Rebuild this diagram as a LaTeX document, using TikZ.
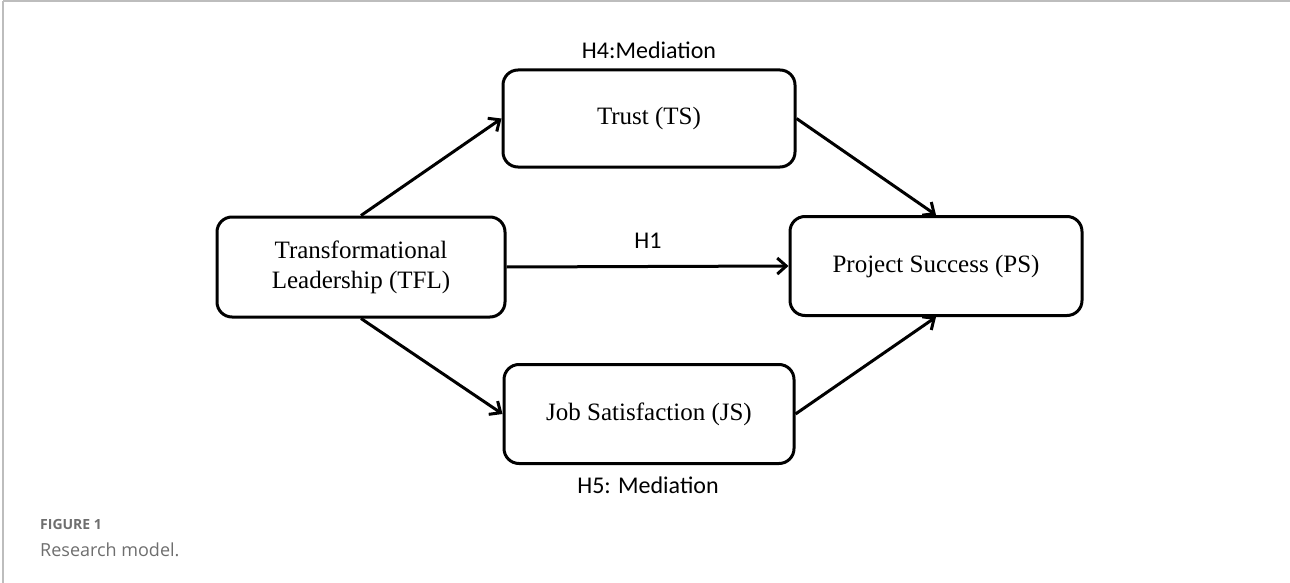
\documentclass[tikz,border=0pt]{standalone}
\usepackage{fontspec}
\setmainfont{Liberation Serif}
\newfontfamily\lblfont{Carlito}
\newfontfamily\capfont{Open Sans}
\usetikzlibrary{arrows.meta}
\definecolor{capgray}{HTML}{6E6E6E}
\definecolor{framegray}{HTML}{BDBDBD}
\tikzset{
  box/.style={draw=black, line width=3pt, rounded corners=15pt, align=center,
    font=\fontsize{25}{30}\selectfont, inner sep=0pt},
  conn/.style={line width=3pt, -{Straight Barb[length=9pt,width=16pt,line width=3pt]}},
  lbl/.style={font=\lblfont\fontsize{24}{28}\selectfont, inner sep=0pt},
}
\begin{document}
\begin{tikzpicture}[x=1pt,y=-1pt]
\useasboundingbox (0,0) rectangle (1290,583);
\draw[framegray, line width=1.5pt] (3,1) -- (1290,1);
\draw[framegray, line width=1.5pt] (3,1) -- (3,583);

\node[box, minimum width=288pt, minimum height=100pt] (tfl) at (361,267) {Transformational\\Leadership (TFL)};
\node[box, minimum width=292pt, minimum height=97pt] (ts) at (649,118.5) {Trust (TS)};
\node[box, minimum width=292pt, minimum height=99pt] (ps) at (936,266) {Project Success (PS)};
\node[box, minimum width=290pt, minimum height=99pt] (js) at (649,414) {Job Satisfaction (JS)};

\draw[conn] (tfl.north) -- (ts.west);
\draw[conn] (ts.east) -- (ps.north);
\draw[conn] (tfl.south) -- (js.west);
\draw[conn] (js.east) -- (ps.south);
\draw[conn] (tfl.east) -- (ps.west);

\node[lbl] (h4) at (649,50) {H4:Mediation};
\node[lbl] (h1) at (648,241) {H1};
\node[lbl] (h5) at (648,485) {H5: Mediation};

\node[anchor=base west, inner sep=0pt, text=capgray, font=\capfont\bfseries\fontsize{14}{16}\selectfont] (fig) at (40,529) {FIGURE 1};
\node[anchor=base west, inner sep=0pt, text=capgray, font=\capfont\fontsize{18}{20}\selectfont] (cap) at (40,556) {Research model.};
\end{tikzpicture}
\end{document}
